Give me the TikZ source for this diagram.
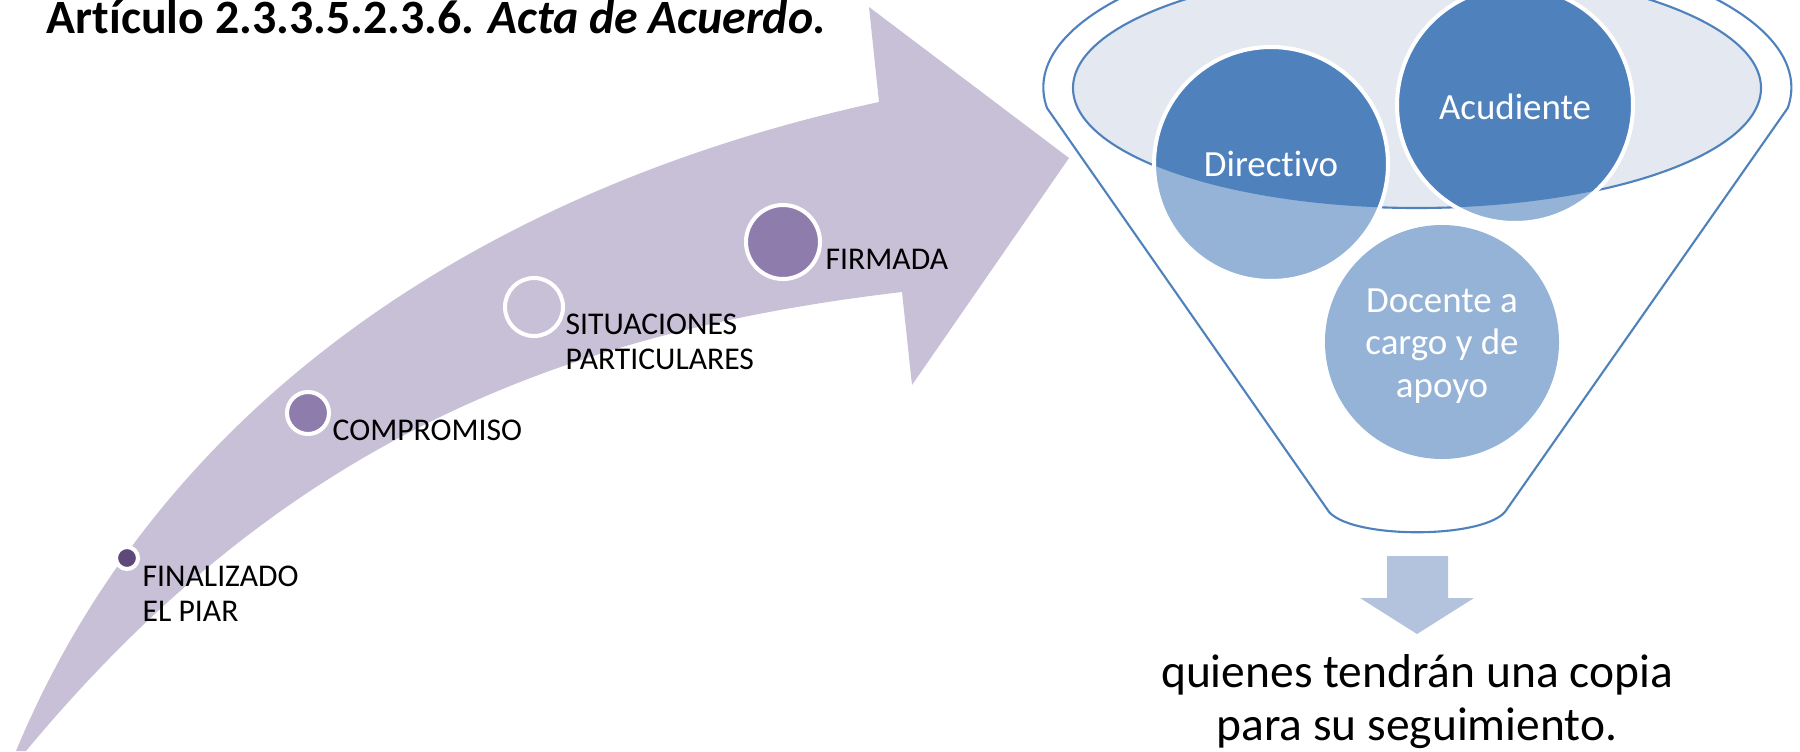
\documentclass[tikz,border=0pt]{standalone}
\usepackage{fontspec}
\setmainfont{Carlito}[Ligatures={NoCommon,NoDiscretionary,NoContextual}]
\usepackage{tikz}
\usetikzlibrary{positioning,calc}
\definecolor{bandpurple}{RGB}{199,192,214}
\definecolor{dotdark}{RGB}{95,73,122}
\definecolor{dotmid}{RGB}{142,124,172}
\definecolor{funnelblue}{RGB}{79,129,189}
\definecolor{lightblue}{RGB}{149,179,215}
\definecolor{rimfill}{RGB}{227,232,241}
\definecolor{downblue}{RGB}{179,194,221}

\begin{document}
\begin{tikzpicture}[x=0.01cm, y=-0.01cm,
    steplabel/.style={anchor=base west, inner sep=0pt, align=left,
      font=\fontsize{9}{9.7}\selectfont},
    ringdot/.style={draw=white, line width=1.15pt},
    roletext/.style={text=white, align=center, inner sep=0pt,
      font=\fontsize{10.5}{12}\selectfont}]
    \useasboundingbox (0,0) rectangle (1800,751);
    \clip (0,0) rectangle (1800,751);

    \node[anchor=base west, inner sep=0pt, font=\fontsize{13.6}{16}\selectfont\bfseries] (titulo) at (46,33)
        {Artículo 2.3.3.5.2.3.6. \textit{Acta de Acuerdo.}};

    % Curved arrow
    \fill[bandpurple] (16,751) .. controls (163,397) and (492,186) .. (879,102)
        -- (869,7) -- (1069,158) -- (912,385) -- (902,292)
        .. controls (552,333) and (278,448) .. (26,751) -- cycle;

    % Steps on the arrow
    \filldraw[fill=dotdark, ringdot] (127,558) circle[radius=11];
    \filldraw[fill=dotmid, ringdot] (308,413) circle[radius=21];
    \draw[ringdot] (534,307) circle[radius=29];
    \filldraw[fill=dotmid, ringdot] (783,242) circle[radius=37];

    \node[steplabel] (finalizado) at (142,621) {FINALIZADO\\EL PIAR};
    \node[steplabel] (compromiso) at (332,440) {COMPROMISO};
    \node[steplabel] (situaciones) at (565,369) {SITUACIONES\\PARTICULARES};
    \node[steplabel] (firmada) at (825,269) {FIRMADA};

    % Funnel
    \draw[funnelblue, line width=0.6pt, fill=white] (1047,108)
        arc[start angle=172, end angle=368, x radius=374, y radius=147]
        -- (1507,509) .. controls (1490,540) and (1344,540) .. (1327,509) -- cycle;
    \filldraw[fill=rimfill, draw=funnelblue, line width=0.6pt] (1417,88) ellipse[x radius=344, y radius=120];

    \fill[lightblue] (1271,164) circle[radius=117] (1515,105) circle[radius=118] (1442,342) circle[radius=117];
    \begin{scope}
        \clip (1417,88) ellipse[x radius=344, y radius=120];
        \fill[funnelblue] (1271,164) circle[radius=117] (1515,105) circle[radius=118];
    \end{scope}
    \draw[white, line width=1.15pt] (1271,164) circle[radius=117] (1515,105) circle[radius=118];

    \node[roletext] (directivo) at (1271,164) {Directivo};
    \node[roletext] (acudiente) at (1515,107) {Acudiente};
    \node[roletext] (docente) at (1442,346) {Docente a\\cargo y de\\apoyo};

    % Down arrow and result
    \fill[downblue] (1387,556) -- (1448,556) -- (1448,598) -- (1474,598) -- (1417,634)
        -- (1360,598) -- (1387,598) -- cycle;
    \node[align=center, inner sep=0pt, anchor=base, font=\fontsize{13.5}{14.8}\selectfont] (copia) at (1417,740)
        {quienes tendrán una copia\\para su seguimiento.};
\end{tikzpicture}
\end{document}
